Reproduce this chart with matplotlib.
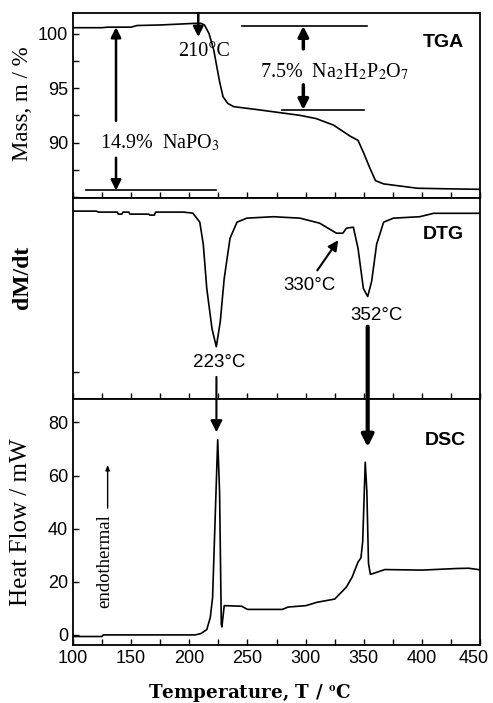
import numpy as np
import matplotlib.pyplot as plt
import matplotlib.transforms as mtransforms
from matplotlib.patches import ConnectionPatch
from matplotlib.ticker import MultipleLocator

plt.rcParams['mathtext.fontset'] = 'stix'

# TGA curve (mass %)
tga_T = [100, 125, 130, 150, 155, 175, 195, 205, 210, 213, 217, 221, 226, 229, 233,
         238, 260, 281, 295, 309, 324, 338, 345, 350, 355, 360, 367, 396, 420, 450]
tga_m = [100.55, 100.55, 100.6, 100.6, 100.75, 100.8, 100.9, 100.95, 100.95, 100.8,
         100.0, 98.5, 95.6, 94.2, 93.6, 93.3, 93.0, 92.7, 92.5, 92.2, 91.6, 90.6,
         90.2, 89.0, 87.7, 86.5, 86.2, 85.8, 85.75, 85.7]

# DTG curve (arbitrary units)
dtg_T = [100, 120, 122, 138, 139, 142, 143, 148, 149, 165, 166, 170, 171, 195, 203,
         209, 212, 215, 219.5, 223.2, 226.6, 230, 235, 241, 249.5, 272, 295, 312,
         326.5, 332, 335, 341, 345, 349.6, 353.3, 356.7, 361, 367, 375.5, 398, 410, 450]
dtg_v = [0.935, 0.935, 0.93, 0.93, 0.92, 0.92, 0.93, 0.93, 0.92, 0.92, 0.915, 0.915,
         0.93, 0.93, 0.925, 0.88, 0.77, 0.55, 0.35, 0.26, 0.385, 0.6, 0.80, 0.88,
         0.90, 0.907, 0.90, 0.875, 0.825, 0.825, 0.85, 0.855, 0.75, 0.55, 0.51,
         0.585, 0.77, 0.88, 0.90, 0.907, 0.924, 0.924]

# DSC curve (mW)
dsc_T = [100, 101, 125, 126, 205, 210, 215, 218, 220, 222, 224.4, 226, 227.5, 228,
         230, 232, 245, 250, 280, 285, 300, 310, 325, 335, 340, 345, 347.5, 349,
         351.2, 352.6, 354, 355.6, 360, 368, 400, 430, 440, 450]
dsc_q = [0.0, -0.6, -0.6, 0.0, 0.0, 0.5, 2.0, 6.5, 14, 41, 73.5, 54, 4, 3,
         11, 11, 10.8, 9.6, 9.6, 10.5, 11, 12.3, 13.5, 18, 21.8, 27.4, 29, 35,
         65, 54, 27, 22.8, 23.4, 24.6, 24.4, 25.0, 25.1, 24.5]

xticks = [100, 150, 200, 250, 300, 350, 400, 450]

fig = plt.figure(figsize=(4.93, 7.03), dpi=100)
L, W = 0.148, 0.826
ax1 = fig.add_axes([L, 0.7183, W, 0.2632])
ax2 = fig.add_axes([L, 0.4324, W, 0.2859])
ax3 = fig.add_axes([L, 0.0825, W, 0.3499])

serif = 'Liberation Serif'
sans = 'Liberation Sans'

for ax in (ax1, ax2, ax3):
    ax.set_xlim(100, 450)
    ax.xaxis.set_major_locator(MultipleLocator(50))
    ax.xaxis.set_minor_locator(MultipleLocator(25))
    ax.tick_params(axis='both', which='both', direction='in', length=4,
                   width=1, labelsize=13, top=False, right=False)
    for s in ax.spines.values():
        s.set_linewidth(1.3)

ax1.tick_params(labelbottom=False)
ax2.tick_params(labelbottom=False)

# ---- TGA ----
ax1.plot(tga_T, tga_m, color='black', lw=1.2)
ax1.set_ylim(84.9, 101.9)
ax1.set_yticks([90, 95, 100])
ax1.yaxis.set_minor_locator(MultipleLocator(2.5))
ax1.set_ylabel('Mass, m / %', family=serif, fontsize=16.5)
ax1.yaxis.set_label_coords(-0.097, 0.51)
for lab in ax1.get_yticklabels():
    lab.set_family(sans)
ax1.text(418, 99.2, 'TGA', family=sans, fontweight='bold', fontsize=14,
         ha='center', va='center')

arrow = dict(arrowstyle='-|>,head_length=0.6,head_width=0.3', color='black',
             lw=1.8, shrinkA=0, shrinkB=0)
# 14.9 % step
ax1.plot([111, 223], [85.6, 85.6], color='black', lw=1.2)
ax1.annotate('', xy=(137, 100.6), xytext=(137, 92.0), arrowprops=arrow)
ax1.annotate('', xy=(137, 85.6), xytext=(137, 88.6), arrowprops=arrow)
ax1.text(123, 90.0, '14.9%  NaPO$_3$', family=serif, fontsize=14.5,
         ha='left', va='center')
# 210 C onset
ax1.annotate('', xy=(207.7, 99.7), xytext=(207.7, 101.9), arrowprops=arrow)
ax1.text(190, 98.4, '210°C', family=serif, fontsize=14.5, ha='left', va='center')
# 7.5 % step
ax1.plot([245, 353], [100.7, 100.7], color='black', lw=1.2)
ax1.plot([280, 350], [93.0, 93.0], color='black', lw=1.2)
ax1.annotate('', xy=(298, 100.7), xytext=(298, 98.6), arrowprops=dict(arrow, lw=2.5))
ax1.annotate('', xy=(298, 93.0), xytext=(298, 95.3), arrowprops=dict(arrow, lw=2.5))
ax1.text(261, 96.5, '7.5%  Na$_2$H$_2$P$_2$O$_7$', family=serif, fontsize=14.5,
         ha='left', va='center')

# ---- DTG ----
ax2.plot(dtg_T, dtg_v, color='black', lw=1.2)
ax2.set_ylim(0, 1)
ax2.set_yticks([0.134])
ax2.set_yticklabels([])
ax2.set_ylabel('dM/dt', family=serif, fontweight='bold', fontsize=17)
ax2.yaxis.set_label_coords(-0.097, 0.607)
ax2.text(418, 0.82, 'DTG', family=sans, fontweight='bold', fontsize=14,
         ha='center', va='center')
ax2.text(303, 0.567, '330°C', family=sans, fontsize=13.5, ha='center', va='center')
ax2.annotate('', xy=(328, 0.79), xytext=(310, 0.64),
             arrowprops=dict(arrow, lw=1.5))
ax2.text(360.5, 0.418, '352°C', family=sans, fontsize=13.5, ha='center', va='center')
ax2.text(225.5, 0.18, '223°C', family=sans, fontsize=13.5, ha='center', va='center')

# ---- DSC ----
ax3.plot(dsc_T, dsc_q, color='black', lw=1.2)
ax3.set_ylim(-3.8, 88.8)
ax3.set_yticks([0, 20, 40, 60, 80])
ax3.set_xticks(xticks)
ax3.set_ylabel('Heat Flow / mW', family=serif, fontsize=18)
ax3.yaxis.set_label_coords(-0.1, 0.5)
ax3.set_xlabel('Temperature, T / $^{\\mathbf{o}}$C', family='DejaVu Serif',
               fontweight='bold', fontsize=13.2)
ax3.xaxis.set_label_coords(0.435, -0.152)
for lab in ax3.get_yticklabels() + ax3.get_xticklabels():
    lab.set_family(sans)
# keep the last x label inside the figure
last = ax3.get_xticklabels()[-1]
last.set_transform(last.get_transform() +
                   mtransforms.ScaledTranslation(-5 / 72, 0, fig.dpi_scale_trans))
ax3.text(420, 73, 'DSC', family=sans, fontweight='bold', fontsize=14,
         ha='center', va='center')
ax3.text(127.5, 27.8, 'endothermal', family=serif, fontsize=13.5, rotation=90,
         ha='center', va='center')
ax3.annotate('', xy=(129.8, 64), xytext=(129.8, 47.7),
             arrowprops=dict(arrowstyle='-|>,head_length=0.3,head_width=0.12',
                             color='black', lw=1.0, shrinkA=0, shrinkB=0))

# arrows from DTG peaks down to DSC peaks
for T, v0, q1, lw in [(223.3, 0.11, 76.3, 1.5), (353.3, 0.36, 70.7, 3.0)]:
    con = ConnectionPatch(xyA=(T, v0), coordsA=ax2.transData,
                          xyB=(T, q1), coordsB=ax3.transData,
                          arrowstyle='-|>,head_length=0.7,head_width=0.35',
                          color='black', lw=lw, shrinkA=0, shrinkB=0, zorder=5)
    fig.add_artist(con)

fig.savefig('out.png', dpi=100)
